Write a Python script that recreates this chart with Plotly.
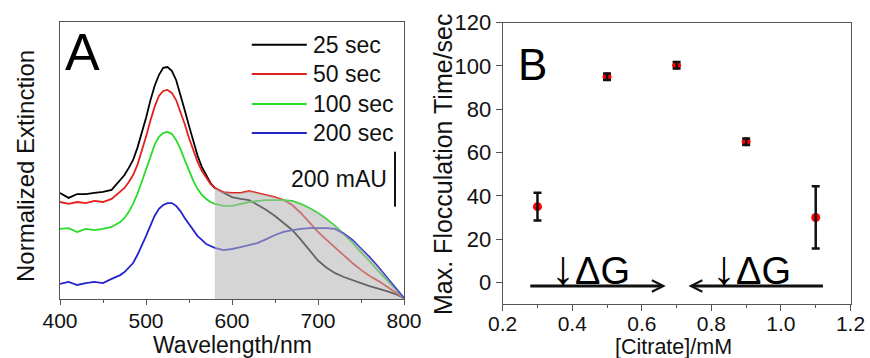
import numpy as np
import plotly.graph_objects as go

# ---------------- Panel A data (extinction spectra, mAU) ----------------
wavelength = [400, 410, 420, 430, 440, 450, 460, 470,
              475, 480, 485, 490, 495, 500, 505, 510, 515, 520, 525, 530, 535,
              540, 545, 550, 555, 560, 565, 570, 575, 580,
              590, 600, 610, 620, 630, 640, 650, 660, 670, 680, 690, 700,
              710, 720, 730, 740, 750, 760, 770, 780, 790, 800]

ext_25s = [386, 368, 382, 382, 386, 390, 397, 433,
           451, 477, 506, 550, 601, 659, 721, 775, 815, 841, 844, 830, 797,
           746, 688, 630, 571, 521, 480, 448, 422, 404,
           386, 371, 364, 360, 342, 324, 302, 277, 251, 216, 178, 140,
           114, 94, 80, 68, 58, 47, 39, 29, 18, 3]

ext_50s = [353, 346, 353, 349, 357, 353, 364, 389,
           404, 426, 451, 488, 535, 590, 648, 699, 739, 757, 761, 750, 724,
           684, 637, 586, 539, 499, 466, 440, 419, 404,
           389, 386, 386, 393, 386, 379, 371, 360, 342, 313, 280, 244,
           215, 186, 157, 131, 106, 84, 66, 44, 25, 3]

ext_100s = [255, 258, 244, 255, 251, 255, 262, 280,
            295, 317, 346, 382, 426, 473, 521, 561, 590, 604, 608, 601, 579,
            546, 506, 466, 430, 400, 379, 364, 353, 346,
            339, 339, 346, 353, 357, 360, 360, 360, 357, 346, 331, 313,
            291, 266, 236, 205, 170, 138, 102, 68, 36, 3]

ext_200s = [55, 62, 51, 58, 62, 58, 73, 87,
            98, 113, 131, 160, 193, 229, 266, 302, 328, 342, 349, 349, 339,
            320, 295, 273, 251, 229, 215, 200, 193, 186,
            178, 182, 189, 197, 204, 218, 233, 244, 251, 255, 258, 258,
            258, 255, 238, 215, 185, 152, 117, 80, 42, 3]

series_names = ["25 sec", "50 sec", "100 sec", "200 sec"]
series_colors = ["#000000", "#e4201c", "#28dc28", "#2424cc"]
shade_start_nm = 580
scale_bar_mAU = 200

# ---------------- Panel B data ----------------
citrate_mM = [0.3, 0.5, 0.7, 0.9, 1.1]
floc_time_s = [35.0, 95.0, 100.3, 65.0, 30.0]
floc_err_s = [6.4, 1.5, 1.5, 1.5, 14.4]

# ---------------- Figure ----------------
W, H = 870, 358
FONT = "Liberation Sans, Arial, sans-serif"
TXT = "#111111"
AXC = "#555555"

fig = go.Figure()

spectra = [ext_25s, ext_50s, ext_100s, ext_200s]
for name, vals, col in zip(series_names, spectra, series_colors):
    fig.add_trace(go.Scatter(x=wavelength, y=vals, mode="lines", name=name,
                             line=dict(color=col, width=1.8),
                             xaxis="x", yaxis="y", showlegend=False))

wl = np.array(wavelength)
stack = np.vstack([np.array(s) for s in spectra])
mask = wl >= shade_start_nm
envelope = stack[:, mask].max(axis=0)
fig.add_trace(go.Scatter(x=wl[mask], y=envelope, mode="lines", fill="tozeroy",
                         fillcolor="rgba(180,180,180,0.56)", line=dict(width=0),
                         xaxis="x", yaxis="y", showlegend=False, hoverinfo="skip"))

fig.add_trace(go.Scatter(x=citrate_mM, y=floc_time_s, mode="markers",
                         marker=dict(color="#ff0000", size=9),
                         xaxis="x2", yaxis="y2", showlegend=False))
fig.add_trace(go.Scatter(x=citrate_mM, y=floc_time_s, mode="markers",
                         marker=dict(color="rgba(0,0,0,0)", size=1),
                         error_y=dict(type="data", array=floc_err_s, color="#111111",
                                      thickness=2.5, width=4),
                         xaxis="x2", yaxis="y2", showlegend=False))

common_axis = dict(showline=True, mirror=True, linecolor=AXC, linewidth=1,
                   showgrid=False, zeroline=False, automargin=False,
                   tickfont=dict(family=FONT, size=21, color=TXT),
                   ticks="outside", tickcolor=AXC)

fig.update_layout(
    width=W, height=H, margin=dict(l=0, r=0, t=0, b=0, autoexpand=False),
    paper_bgcolor="white", plot_bgcolor="white",
    xaxis=dict(common_axis, domain=[60 / W, 404 / W], range=[400, 800],
               anchor="y", dtick=100, ticklen=5, ticklabelstandoff=-2,
               minor=dict(dtick=50, ticklen=3, ticks="outside", tickcolor=AXC)),
    yaxis=dict(common_axis, domain=[(H - 299) / H, (H - 22) / H], range=[0, 1008],
               anchor="x", showticklabels=False, ticks=""),
    xaxis2=dict(common_axis, domain=[502.7 / W, 850.5 / W], range=[0.2, 1.2],
                anchor="y2", dtick=0.2, tickformat=".1f", ticklen=6, ticklabelstandoff=-5,
                minor=dict(dtick=0.1, ticklen=3, ticks="outside", tickcolor=AXC)),
    yaxis2=dict(common_axis, domain=[(H - 304) / H, (H - 22.7) / H], range=[-10, 120],
                anchor="x2", dtick=20, ticklen=6,
                tickfont=dict(family=FONT, size=22, color=TXT)),
)

shapes = []
annotations = []

# axis titles
axis_titles = [
    ("Wavelength/nm", 232 / W, (H - 345) / H, 0, 23),
    ("Normalized Extinction", 25 / W, (H - 166) / H, -90, 24),
    ("[Citrate]/mM", 673 / W, (H - 346.5) / H, 0, 21.5),
    ("Max. Flocculation Time/sec", 443 / W, (H - 164) / H, -90, 25),
]
for text, px, py, ang, fs in axis_titles:
    annotations.append(dict(xref="paper", yref="paper", x=px, y=py, text=text,
                            textangle=ang, showarrow=False, xanchor="center",
                            yanchor="middle", font=dict(family=FONT, size=fs, color=TXT)))

# legend for panel A
legend_y = [925, 819, 710, 604]
for name, col, ly in zip(series_names, series_colors, legend_y):
    shapes.append(dict(type="line", xref="x", yref="y", x0=623, x1=687, y0=ly, y1=ly,
                       line=dict(color=col, width=2)))
    annotations.append(dict(xref="x", yref="y", x=692, y=ly, text=name, showarrow=False,
                            xanchor="left", yanchor="middle",
                            font=dict(family=FONT, size=23, color=TXT)))

# scale bar
shapes.append(dict(type="line", xref="x", yref="y", x0=789.5, x1=789.5,
                   y0=336, y1=336 + scale_bar_mAU, line=dict(color="#111111", width=2)))
annotations.append(dict(xref="x", yref="y", x=782, y=436, text=f"{scale_bar_mAU} mAU",
                        showarrow=False, xanchor="right", yanchor="middle",
                        font=dict(family=FONT, size=23, color=TXT)))

# panel labels
annotations.append(dict(xref="x", yref="y", x=404, y=900, text="A", showarrow=False,
                        xanchor="left", yanchor="middle",
                        font=dict(family=FONT, size=52, color="#000000")))
annotations.append(dict(xref="x2", yref="y2", x=0.238, y=100.5, text="B", showarrow=False,
                        xanchor="left", yanchor="middle",
                        font=dict(family=FONT, size=44, color="#000000")))

# Delta G arrows
for tail, head in [(0.275, 0.669), (1.125, 0.734)]:
    annotations.append(dict(xref="x2", yref="y2", axref="x2", ayref="y2",
                            x=head, y=-1.7, ax=tail, ay=-1.7, text="", showarrow=True,
                            arrowhead=5, arrowsize=0.75, arrowwidth=3, arrowcolor="#111111"))
for xl in [0.332, 0.797]:
    annotations.append(dict(xref="x2", yref="y2", x=xl, y=7.0,
                            text="<span style='font-size:48px'>↓</span>ΔG", showarrow=False,
                            xanchor="left", yanchor="middle",
                            font=dict(family=FONT, size=38, color="#000000")))

fig.update_layout(shapes=shapes, annotations=annotations)
fig.write_html("out.html")
